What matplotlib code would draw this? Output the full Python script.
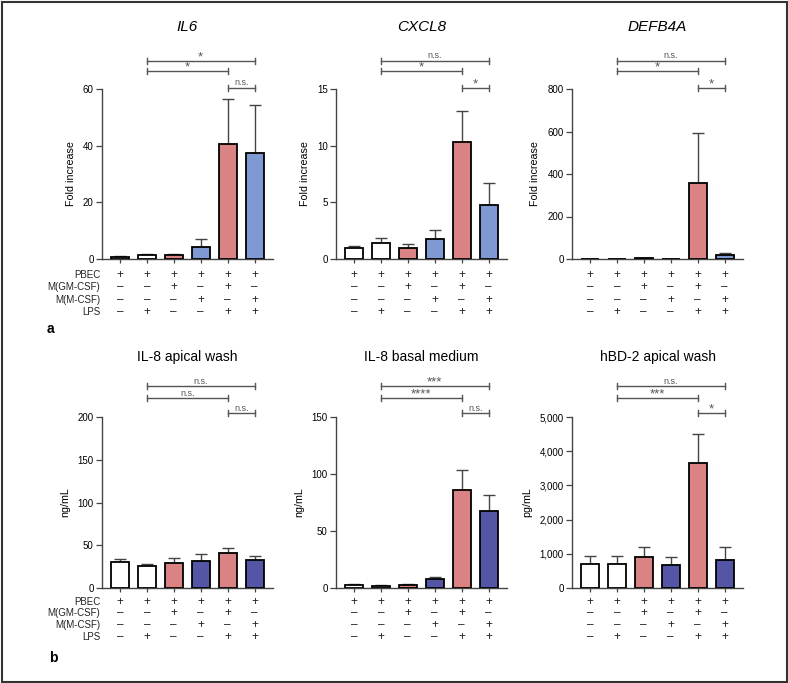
import matplotlib
matplotlib.use("Agg")
import matplotlib.pyplot as plt
from matplotlib.patches import Rectangle
from matplotlib.ticker import FixedLocator, FuncFormatter
import matplotlib.transforms as mtransforms

plt.rcParams['font.family'] = ['Liberation Sans', 'DejaVu Sans']

# ---------------- data ----------------
row_names = ["PBEC", "M(GM-CSF)", "M(M-CSF)", "LPS"]
pbec_row = ["+", "+", "+", "+", "+", "+"]
gm_row = ["–", "–", "+", "–", "+", "–"]
m_row = ["–", "–", "–", "+", "–", "+"]
lps_row = ["–", "+", "–", "–", "+", "+"]

il6_mean = [0.8, 1.4, 1.3, 4.4, 40.6, 37.5]
il6_sd = [0.3, 0.4, 0.6, 2.5, 15.9, 17.0]
cxcl8_mean = [0.97, 1.41, 0.94, 1.76, 10.35, 4.8]
cxcl8_sd = [0.18, 0.4, 0.36, 0.84, 2.75, 1.9]
defb4a_mean = [1, 1, 3, 1, 359, 17]
defb4a_sd = [1, 0.5, 1.5, 0.5, 232, 11]
il8_apical_mean = [30.3, 25.2, 28.7, 31.0, 41.2, 32.6]
il8_apical_sd = [3.1, 2.4, 5.9, 9.0, 5.4, 5.4]
il8_basal_mean = [2.3, 1.7, 2.6, 7.9, 86.2, 67.6]
il8_basal_sd = [0.9, 0.6, 1.2, 1.4, 17.5, 14.0]
hbd2_mean = [700, 710, 920, 670, 3650, 825]
hbd2_sd = [250, 240, 270, 225, 865, 380]

titles = ["IL6", "CXCL8", "DEFB4A", "IL-8 apical wash", "IL-8 basal medium", "hBD-2 apical wash"]
ylabels = ["Fold increase", "Fold increase", "Fold increase", "ng/mL", "ng/mL", "pg/mL"]
ymax = [60, 15, 800, 200, 150, 5000]
yticks = [[0, 20, 40, 60], [0, 5, 10, 15], [0, 200, 400, 600, 800],
          [0, 50, 100, 150, 200], [0, 50, 100, 150], [0, 1000, 2000, 3000, 4000, 5000]]
sig_labels = [["*", "*", "n.s."], ["n.s.", "*", "*"], ["n.s.", "*", "*"],
              ["n.s.", "n.s.", "n.s."], ["***", "****", "n.s."], ["n.s.", "***", "*"]]
sig_pairs = [(1, 5), (1, 4), (4, 5)]

pink = "#d98384"
lblue = "#7f9ad2"
dblue = "#5455a5"
top_colors = ["white", "white", pink, lblue, pink, lblue]
bot_colors = ["white", "white", pink, dblue, pink, dblue]

means = [il6_mean, cxcl8_mean, defb4a_mean, il8_apical_mean, il8_basal_mean, hbd2_mean]
sds = [il6_sd, cxcl8_sd, defb4a_sd, il8_apical_sd, il8_basal_sd, hbd2_sd]

W, H = 788, 683
fig = plt.figure(figsize=(W / 100, H / 100), dpi=100)

lefts = [102, 336, 572]
ax_w = 171
rows_px = [(89, 259), (417, 588)]

gray = "#555555"
for i in range(6):
    r, c = divmod(i, 3)
    top, bot = rows_px[r]
    ax = fig.add_axes([lefts[c] / W, 1 - bot / H, ax_w / W, (bot - top) / H])
    x = list(range(6))
    colors = top_colors if r == 0 else bot_colors
    ax.bar(x, means[i], width=0.67, color=colors, edgecolor="black", linewidth=1.3, zorder=3)
    ax.errorbar(x, means[i], yerr=[[0] * 6, sds[i]], fmt="none", ecolor="#444444",
                elinewidth=1.0, capsize=4, capthick=1.0, zorder=2)
    ax.set_xlim(-0.66, 5.68)
    ax.set_ylim(0, ymax[i])
    ax.yaxis.set_major_locator(FixedLocator(yticks[i]))
    if i == 5:
        ax.yaxis.set_major_formatter(FuncFormatter(lambda v, p: f"{int(v):,}"))
    ax.set_xticks(x)
    ax.set_xticklabels([])
    for s in ["top", "right"]:
        ax.spines[s].set_visible(False)
    for s in ["left", "bottom"]:
        ax.spines[s].set_color("#444444")
        ax.spines[s].set_linewidth(1.0)
    ax.tick_params(axis="y", labelsize=7, length=4, width=0.9, color="#444444", pad=2)
    ax.tick_params(axis="x", length=3, width=0.9, color="#444444")
    ax.set_ylabel(ylabels[i], fontsize=7.7, labelpad=5)
    if r == 0:
        ax.set_title(titles[i], fontsize=11, style="italic", pad=42)
    else:
        ax.set_title(titles[i], fontsize=10, pad=40)

    # significance brackets
    trans = mtransforms.blended_transform_factory(ax.transData, ax.transAxes)
    hpx = bot - top
    levels = ([1.165, 1.106, 1.006] if r == 0 else [1.181, 1.111, 1.023])
    d = 3.0 / hpx
    for (x1, x2), lab, yl in zip(sig_pairs, sig_labels[i], levels):
        ax.plot([x1, x2], [yl, yl], color=gray, lw=1.0, transform=trans, clip_on=False)
        ax.plot([x1, x1], [yl - d, yl + d], color=gray, lw=1.0, transform=trans, clip_on=False)
        ax.plot([x2, x2], [yl - d, yl + d], color=gray, lw=1.0, transform=trans, clip_on=False)
        if "*" in lab:
            ax.text((x1 + x2) / 2, yl - 2.0 / hpx, lab, transform=trans, ha="center", va="bottom",
                    fontsize=9.5, color=gray)
        else:
            ax.text((x1 + x2) / 2, yl + 0.5 / hpx, lab, transform=trans, ha="center", va="bottom",
                    fontsize=6.5, color=gray)

    # condition table
    offs = [16, 28, 41, 53] if r == 0 else [14, 25, 37, 49]
    for rowvals, name, off in zip([pbec_row, gm_row, m_row, lps_row], row_names, offs):
        yy = -off / hpx
        for xi, v in zip(x, rowvals):
            ax.text(xi, yy, v, transform=trans, ha="center", va="center", fontsize=8.5, color="#222222")
        if c == 0:
            ax.text(-0.72, yy, name, transform=trans, ha="right", va="center", fontsize=7, color="#222222")

fig.text(50 / W, 1 - 329 / H, "a", fontsize=10, fontweight="bold", ha="center", va="center")
fig.text(53 / W, 1 - 658 / H, "b", fontsize=10, fontweight="bold", ha="center", va="center")

fig.add_artist(Rectangle((1.5 / W, 1.5 / H), (W - 3) / W, (H - 3) / H, transform=fig.transFigure,
                         fill=False, edgecolor="#333333", linewidth=1.5))

fig.savefig("out.png", dpi=100)
